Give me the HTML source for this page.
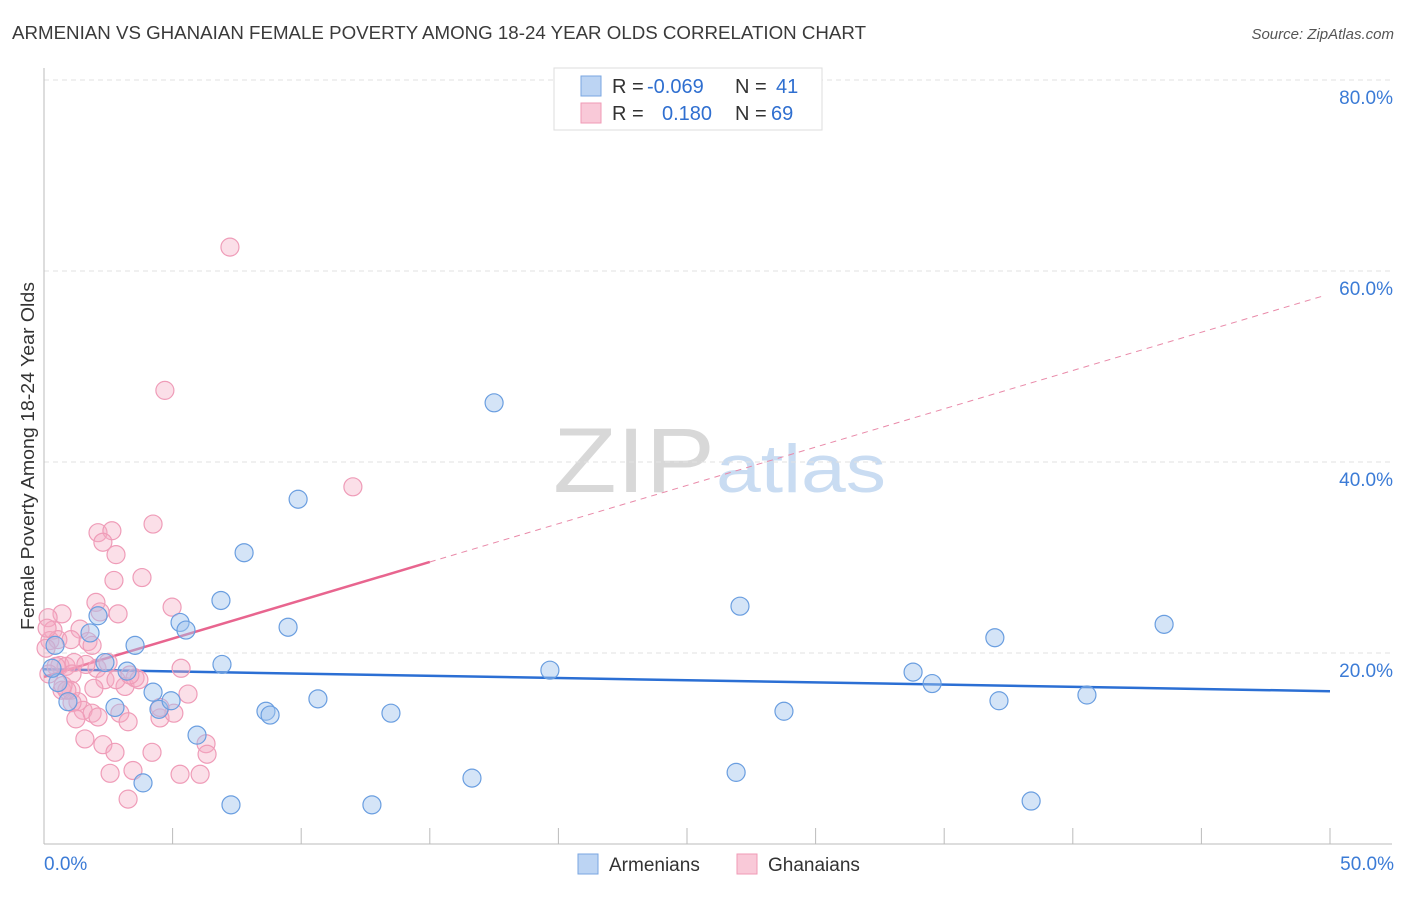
<!DOCTYPE html>
<html><head><meta charset="utf-8"><style>
body{margin:0;background:#fff;font-family:"Liberation Sans",sans-serif;}
svg text{font-family:"Liberation Sans",sans-serif;}
</style></head><body>
<svg id="chart" width="1406" height="892" xmlns="http://www.w3.org/2000/svg">
<text x="12" y="39" font-size="18" fill="#3a3a3a" textLength="854" lengthAdjust="spacingAndGlyphs">ARMENIAN VS GHANAIAN FEMALE POVERTY AMONG 18-24 YEAR OLDS CORRELATION CHART</text>
<text x="1394" y="39" font-size="15" fill="#555" text-anchor="end" font-style="italic">Source: ZipAtlas.com</text>
<text transform="translate(34,456) rotate(-90)" font-size="18" fill="#333" text-anchor="middle" textLength="348" lengthAdjust="spacingAndGlyphs">Female Poverty Among 18-24 Year Olds</text>
<g>
<text x="553" y="492" font-size="92" fill="#d8d8d8" font-family="Liberation Serif" textLength="162" lengthAdjust="spacingAndGlyphs">ZIP</text>
<text x="716" y="492" font-size="68" fill="#c9dcf2" textLength="170" lengthAdjust="spacingAndGlyphs">atlas</text>
</g>
<g id="grid"></g><g id="axes"></g><g id="trend"></g><g id="points"></g>
<g>
<rect x="554" y="68" width="268" height="62" fill="#fff" stroke="#ddd"/>
<rect x="581" y="76" width="20" height="20" fill="#bcd4f3" stroke="#7aa6e0"/>
<rect x="581" y="103" width="20" height="20" fill="#f9c9d8" stroke="#f09ab6"/>
<text x="612" y="93" font-size="20" fill="#333">R = <tspan x="647" fill="#2f6fd0">-0.069</tspan><tspan x="735">N = </tspan><tspan x="776" fill="#2f6fd0">41</tspan></text>
<text x="612" y="120" font-size="20" fill="#333">R = <tspan x="662" fill="#2f6fd0">0.180</tspan><tspan x="735">N = </tspan><tspan x="771" fill="#2f6fd0">69</tspan></text>
</g>
<g>
<rect x="578" y="854" width="20" height="20" fill="#bcd4f3" stroke="#7aa6e0"/>
<text x="609" y="871" font-size="19" fill="#333">Armenians</text>
<rect x="737" y="854" width="20" height="20" fill="#f9c9d8" stroke="#f09ab6"/>
<text x="768" y="871" font-size="19" fill="#333">Ghanaians</text>
</g>
</svg>
<script>
const blueX=[0.43,0.54,0.93,1.79,2.10,2.37,2.76,3.23,3.54,3.85,4.24,4.47,4.94,5.29,5.52,5.95,6.92,6.88,7.27,7.78,8.63,8.79,9.49,9.88,10.65,12.75,13.49,16.64,17.50,19.67,26.91,27.06,28.77,33.79,34.53,36.97,37.13,38.38,40.55,43.55,0.31];
const blueY=[20.8,16.9,14.9,22.1,23.9,19.0,14.3,18.1,20.8,6.4,15.9,14.1,15.0,23.2,22.4,11.4,18.8,25.5,4.1,30.5,13.9,13.5,22.7,36.1,15.2,4.1,13.7,6.9,46.2,18.2,7.5,24.9,13.9,18.0,16.8,21.6,15.0,4.5,15.6,23.0,18.4];
const pinkX=[7.23,4.70,12.01,4.24,2.10,2.64,2.29,2.80,2.72,3.81,0.70,0.16,2.02,2.88,4.98,2.18,0.35,1.40,0.23,0.54,1.71,1.87,1.05,0.62,0.86,1.17,2.06,0.47,2.49,1.09,0.19,2.37,3.15,3.54,3.69,5.33,5.60,0.70,1.05,1.94,1.32,1.52,1.87,2.10,2.95,3.27,4.51,5.05,1.59,2.29,2.76,4.20,6.30,6.34,2.57,3.46,5.29,6.07,3.27,1.09,0.89,2.80,1.63,0.74,0.08,0.12,3.34,1.24,4.51];
const pinkY=[62.5,47.5,37.4,33.5,32.6,32.8,31.6,30.3,27.6,27.9,24.1,23.7,25.3,24.1,24.8,24.3,22.4,22.5,21.3,21.4,21.2,20.8,21.4,18.7,18.6,19.0,18.4,18.6,19.0,17.8,17.8,17.2,16.5,17.4,17.2,18.4,15.7,16.1,16.1,16.3,14.9,14.0,13.7,13.3,13.7,12.8,13.2,13.7,11.0,10.4,9.6,9.6,10.5,9.4,7.4,7.7,7.3,7.3,4.7,14.8,16.1,17.2,18.8,16.6,20.5,22.6,17.7,13.1,14.3];
const yTicks=[20,40,60,80];
const yTickLabels=["20.0%","40.0%","60.0%","80.0%"];
const blueTrend=[18.3,16.0];
const pinkTrend=[17.5,57.6];
const NS="http://www.w3.org/2000/svg";
const sx=v=>44+v/50*1286, sy=v=>844-v/20*191;
function mk(tag,attrs,parent){const e=document.createElementNS(NS,tag);for(const k in attrs)e.setAttribute(k,attrs[k]);parent.appendChild(e);return e;}
const grid=document.getElementById('grid'),axes=document.getElementById('axes'),tr=document.getElementById('trend'),pts=document.getElementById('points');
yTicks.forEach((t,i)=>{
 const l=mk('line',{x1:44,x2:1392,y1:sy(t),y2:sy(t),stroke:'#e2e2e2','stroke-dasharray':'5,4'},grid);
 
 
 const tx=mk('text',{x:1393,y:sy(t)+24,'font-size':19,fill:'#3b7bd6','text-anchor':'end'},axes);
 tx.textContent=yTickLabels[i];
 
 
});
const xa=mk('line',{x1:44,x2:1392,y1:844,y2:844,stroke:'#bbb'},axes);


const ya=mk('line',{x1:44,x2:44,y1:68,y2:844,stroke:'#bbb'},axes);


for(let i=1;i<=10;i++){const t=mk('line',{x1:sx(i*5),x2:sx(i*5),y1:828,y2:844,stroke:'#bbb'},axes);
 
 }
const x0=mk('text',{x:44,y:870,'font-size':19,fill:'#3b7bd6'},axes);x0.textContent='0.0%';


const x1=mk('text',{x:1394,y:870,'font-size':19,fill:'#3b7bd6','text-anchor':'end'},axes);x1.textContent='50.0%';


function addPts(X,Y,fill,stroke,name){X.forEach((x,i)=>{const c=mk('circle',{cx:sx(x),cy:sy(Y[i]),r:9,fill:fill,stroke:stroke,'stroke-width':1.2},pts);
 
 });}
addPts(pinkX,pinkY,'rgba(245,170,195,0.38)','#ef9cb8','ghanaian-point');
addPts(blueX,blueY,'rgba(160,195,238,0.45)','#6a9ee0','armenian-point');
const bt=mk('line',{x1:sx(0),y1:sy(blueTrend[0]),x2:sx(50),y2:sy(blueTrend[1]),stroke:'#2b6fd4','stroke-width':2.5},tr);


const pv=x=>pinkTrend[0]+(pinkTrend[1]-pinkTrend[0])*x/50;
const pd=mk('line',{x1:sx(15),y1:sy(pv(15)),x2:sx(49.8),y2:sy(pv(49.8)),stroke:'#e98aa9','stroke-width':1,'stroke-dasharray':'6,5'},tr);


const ps=mk('line',{x1:sx(0),y1:sy(pv(0)),x2:sx(15),y2:sy(pv(15)),stroke:'#e8658f','stroke-width':2.5},tr);


</script>
</body></html>
